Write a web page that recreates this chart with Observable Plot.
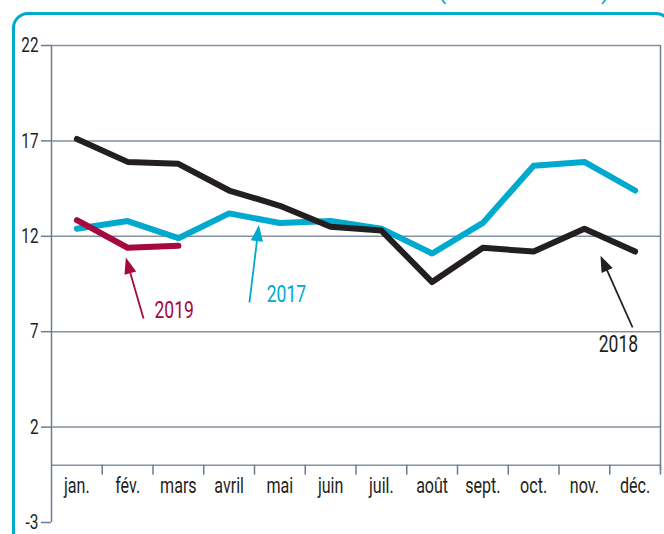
<!DOCTYPE html>
<html><head><meta charset="utf-8">
<script src="https://cdn.jsdelivr.net/npm/d3@7"></script>
<script src="https://cdn.jsdelivr.net/npm/@observablehq/plot@0.6"></script>
<style>
body{margin:0;background:#fff;overflow:hidden;width:664px;height:534px;position:relative;font-family:Roboto,"DejaVu Sans Condensed",sans-serif;}
#frame{position:absolute;left:12px;top:12px;width:654px;height:600px;border:3px solid #00a9ce;border-radius:16px;}
.par{position:absolute;top:-21px;font-size:24px;line-height:24px;color:#00a9ce;}
#chart{position:absolute;left:0;top:0;}
#chart text{font-weight:400;}
</style></head>
<body>
<div id="frame"></div>
<span class="par" style="left:438px">(</span><span class="par" style="left:601px">)</span>
<div id="chart"></div>
<script>
const months = ["jan.","fév.","mars","avril","mai","juin","juil.","août","sept.","oct.","nov.","déc."];
const v2017 = [12.4, 12.8, 11.9, 13.2, 12.7, 12.8, 12.4, 11.1, 12.7, 15.7, 15.9, 14.4];
const v2018 = [17.1, 15.9, 15.8, 14.4, 13.6, 12.5, 12.3, 9.6, 11.4, 11.2, 12.4, 11.2];
const v2019 = [12.85, 11.4, 11.5];
const yTicks = [-3, 2, 7, 12, 17, 22];
const gridValues = [22, 17, 12, 7, 2, 0];
const seriesNames = ["2017", "2018", "2019"];
const seriesColors = ["#00a9ce", "#231f20", "#a6093d"];
// annotation labels and arrows, in data units (month index, value)
const annotations = [
  {label: "2019", color: "#a6093d", tx: 1.53, ty: 8.1, x1: 1.313, y1: 7.69, x2: 0.98, y2: 10.75, anchor: "start"},
  {label: "2017", color: "#00a9ce", tx: 3.74, ty: 8.95, x1: 3.40, y1: 8.53, x2: 3.58, y2: 12.45, anchor: "start"},
  {label: "2018", color: "#231f20", tx: 10.67, ty: 6.33, x1: 10.95, y1: 7.22, x2: 10.34, y2: 10.85, anchor: "middle"}
];

const seriesValues = [v2017, v2018, v2019];
const rows = [];
seriesValues.forEach((vals, s) => vals.forEach((v, i) => rows.push({i, v, series: seriesNames[s], color: seriesColors[s]})));

const xDomain = [-0.5, months.length - 0.5];
const boundaries = months.map((_, i) => i + 0.5);
const gridColor = "#8391a0";
const axisColor = "#6f7d8b";

const plot = Plot.plot({
  width: 664, height: 534,
  marginLeft: 51, marginRight: 4, marginTop: 45, marginBottom: 12,
  x: {domain: xDomain},
  y: {domain: [-3, 22]},
  color: {type: "identity"},
  style: {fontFamily: 'Roboto,"DejaVu Sans Condensed",sans-serif', color: "#231f20", background: "transparent"},
  marks: [
    Plot.ruleY(gridValues, {stroke: gridColor, strokeWidth: 1.5}),
    Plot.ruleX([xDomain[0]], {stroke: axisColor, strokeWidth: 1.5}),
    Plot.ruleX([xDomain[1]], {y1: -0.28, y2: 22, stroke: axisColor, strokeWidth: 1.5}),
    Plot.ruleX(boundaries, {y1: 0, y2: -0.52, stroke: axisColor, strokeWidth: 1.5}),
    Plot.axisY({ticks: yTicks, tickFormat: d => String(d), tickSize: 10, tickPadding: 3, fontSize: 21, stroke: axisColor, strokeWidth: 1.5}),
    Plot.axisX({ticks: months.map((_, i) => i), tickFormat: i => months[i], tickSize: 0, tickPadding: 0, fontSize: 22, dy: -45}),
    Plot.line(rows, {x: "i", y: "v", z: "series", stroke: "color", strokeWidth: 6}),
    Plot.link(annotations, {x1: "x1", y1: "y1", x2: "x2", y2: "y2", stroke: "color", strokeWidth: 1.8, markerEnd: "arrow"}),
    Plot.text(annotations, {x: "tx", y: "ty", text: "label", fill: "color", fontSize: 24, textAnchor: "start", lineAnchor: "middle", filter: d => d.anchor === "start"}),
    Plot.text(annotations, {x: "tx", y: "ty", text: "label", fill: "color", fontSize: 24, textAnchor: "middle", lineAnchor: "middle", filter: d => d.anchor === "middle"})
  ]
});

// filled triangular arrowheads
plot.querySelectorAll("marker").forEach(m => {
  const c = m.getAttribute("stroke");
  m.setAttribute("viewBox", "-10 -5 12 10");
  m.setAttribute("markerWidth", 12);
  m.setAttribute("markerHeight", 10);
  m.setAttribute("fill", c);
  m.setAttribute("stroke", "none");
  const p = m.querySelector("path");
  if (p) p.setAttribute("d", "M-7.5,-3.4L1.5,0L-7.5,3.4Z");
});

document.getElementById("chart").append(plot);

// condensed lettering, as in the reference
plot.querySelectorAll("text").forEach(t => {
  const L = t.getComputedTextLength();
  if (L > 0) {
    t.setAttribute("textLength", (L * 0.73).toFixed(1));
    t.setAttribute("lengthAdjust", "spacingAndGlyphs");
  }
});
</script>
</body></html>
